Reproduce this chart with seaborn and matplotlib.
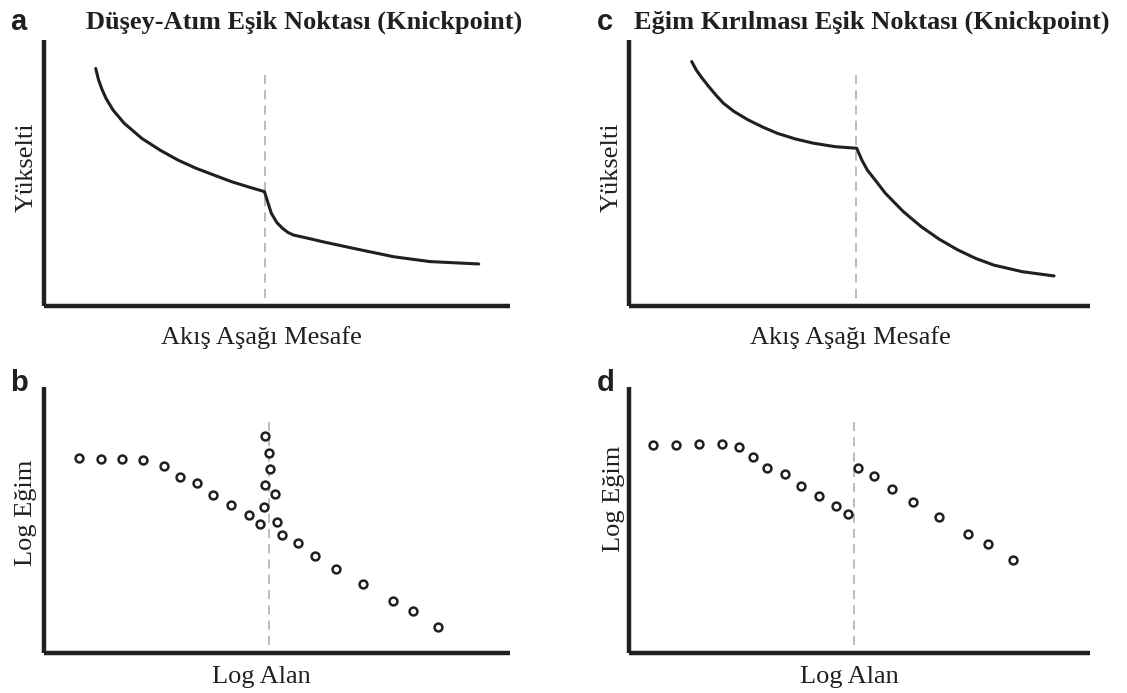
import matplotlib
matplotlib.use("Agg")
import matplotlib.pyplot as plt
import pandas as pd
import seaborn as sns

# ---- a: elevation profile with a vertical-step knickpoint ----
a_dist = [11.1, 11.7, 12.5, 13.3, 14.8, 17.2, 21.0, 24.9, 28.7, 32.6, 36.5, 40.3,
          44.2, 47.3, 48.1, 48.8, 50.0, 51.2, 52.3, 53.5, 57.3, 59.7, 67.4, 75.1,
          82.8, 93.3]
a_elev = [89.3, 85.0, 81.2, 78.1, 73.7, 68.7, 63.0, 58.6, 54.9, 51.8, 49.2, 46.7,
          44.6, 43.0, 38.6, 34.8, 31.3, 29.2, 27.7, 26.7, 25.2, 24.2, 21.3, 18.5,
          16.7, 15.8]
a_knick = 47.5

# ---- b: slope-area data for the vertical-step knickpoint ----
b_area = [7.6, 12.2, 16.8, 21.3, 25.8, 29.1, 32.8, 36.2, 40.2, 43.9, 46.3,
          47.5, 48.2, 48.6, 47.4, 49.6, 47.3, 50.0, 51.1,
          54.4, 58.2, 62.6, 68.5, 74.9, 79.2, 84.5]
b_slope = [73.4, 73.1, 73.1, 72.4, 70.2, 66.2, 63.9, 59.3, 55.8, 51.8, 48.6,
           81.7, 75.2, 69.2, 63.3, 59.7, 54.8, 49.2, 44.4,
           41.2, 36.3, 31.4, 26.1, 19.5, 15.8, 9.6]
b_knick = 48.2

# ---- c: elevation profile with a slope-break knickpoint ----
c_dist = [13.6, 14.6, 15.8, 17.3, 18.9, 20.5, 22.8, 25.9, 29.1, 32.2, 36.1, 40.0,
          44.7, 49.4, 50.5, 51.7, 53.7, 55.6, 59.5, 63.4, 67.3, 71.3, 75.2, 79.1,
          85.3, 92.2]
c_elev = [91.9, 88.7, 85.8, 82.5, 79.2, 76.2, 73.1, 69.9, 67.2, 64.9, 62.8, 61.2,
          59.9, 59.3, 54.9, 51.1, 46.7, 42.4, 35.5, 29.8, 25.1, 21.1, 17.9, 15.4,
          12.9, 11.3]
c_knick = 49.2

# ---- d: slope-area data for the slope-break knickpoint ----
d_area = [5.2, 10.2, 15.1, 20.1, 23.9, 26.8, 30.0, 33.9, 37.3, 41.2, 44.9, 47.5,
          49.7, 53.2, 57.0, 61.5, 67.3, 73.6, 77.9, 83.3]
d_slope = [78.1, 78.2, 78.4, 78.4, 77.6, 73.6, 69.5, 67.3, 62.7, 59.1, 55.1, 52.1,
           69.5, 66.4, 61.7, 56.6, 51.3, 44.7, 41.0, 34.8]
d_knick = 48.9

titles = ["Düşey-Atım Eşik Noktası (Knickpoint)",
          "Eğim Kırılması Eşik Noktası (Knickpoint)"]
panel_letters = ["a", "b", "c", "d"]
xlabel_profile = "Akış Aşağı Mesafe"
ylabel_profile = "Yükselti"
xlabel_sa = "Log Alan"
ylabel_sa = "Log Eğim"

INK = "#231f20"
DASH = "#a7a9ac"
FS = 19

sns.set_theme(style="white")
plt.rcParams["font.family"] = ["Liberation Serif", "DejaVu Serif"]

W, H = 1127, 693
fig = plt.figure(figsize=(W / 100, H / 100), dpi=100)
fig.patch.set_facecolor("white")


def make_ax(left, top, right, bottom):
    return fig.add_axes([left / W, 1 - bottom / H, (right - left) / W, (bottom - top) / H])


ax_a = make_ax(44, 40, 510, 306)
ax_b = make_ax(44, 387, 510, 653)
ax_c = make_ax(629, 40, 1090, 306)
ax_d = make_ax(629, 387, 1090, 653)


def style_axes(ax, knick):
    ax.set_xlim(0, 100)
    ax.set_ylim(0, 100)
    ax.axvline(knick, ymin=0.03, ymax=0.87, color=DASH, lw=1.1,
               ls=(0, (6, 4)), zorder=1)
    for side in ("top", "right"):
        ax.spines[side].set_visible(False)
    for side in ("left", "bottom"):
        ax.spines[side].set_color(INK)
        ax.spines[side].set_linewidth(3.2)
        ax.spines[side].set_capstyle("butt")
    ax.set_xticks([])
    ax.set_yticks([])
    ax.set_facecolor("white")


def profile(ax, x, y, knick):
    df = pd.DataFrame({"x": x, "y": y})
    sns.lineplot(data=df, x="x", y="y", ax=ax, sort=False, estimator=None,
                 color=INK, lw=2.2, zorder=3)
    ax.lines[-1].set_solid_joinstyle("round")
    style_axes(ax, knick)
    ax.set_xlabel(xlabel_profile, fontsize=FS, color=INK)
    ax.set_ylabel(ylabel_profile, fontsize=FS, color=INK)


def slope_area(ax, x, y, knick):
    df = pd.DataFrame({"x": x, "y": y})
    sns.scatterplot(data=df, x="x", y="y", ax=ax, s=32, marker="o",
                    facecolor="white", edgecolor=INK, linewidth=1.8, zorder=3)
    style_axes(ax, knick)
    ax.set_xlabel(xlabel_sa, fontsize=FS, color=INK)
    ax.set_ylabel(ylabel_sa, fontsize=FS, color=INK)


profile(ax_a, a_dist, a_elev, a_knick)
slope_area(ax_b, b_area, b_slope, b_knick)
profile(ax_c, c_dist, c_elev, c_knick)
slope_area(ax_d, d_area, d_slope, d_knick)

# label placement (axes fractions)
ax_a.xaxis.set_label_coords(0.467, -0.075)
ax_c.xaxis.set_label_coords(0.480, -0.075)
ax_b.xaxis.set_label_coords(0.467, -0.048)
ax_d.xaxis.set_label_coords(0.477, -0.048)
ax_a.yaxis.set_label_coords(-0.014, 0.52)
ax_c.yaxis.set_label_coords(-0.014, 0.52)
ax_b.yaxis.set_label_coords(-0.014, 0.526)
ax_d.yaxis.set_label_coords(-0.008, 0.58)

# panel titles
fig.text(304 / W, 1 - 22 / H, titles[0], fontsize=FS, fontweight="bold",
         color=INK, ha="center", va="center")
fig.text(872 / W, 1 - 22 / H, titles[1], fontsize=FS, fontweight="bold",
         color=INK, ha="center", va="center")

# panel letters
letter_pos = [(10, 22), (10, 383), (597, 22), (597, 383)]
for letter, (px, py) in zip(panel_letters, letter_pos):
    fig.text(px / W, 1 - py / H, letter, fontsize=21, fontweight="bold",
             family=["Liberation Sans", "DejaVu Sans"], color=INK,
             ha="left", va="center")

fig.savefig("out.png", dpi=100, facecolor="white")
